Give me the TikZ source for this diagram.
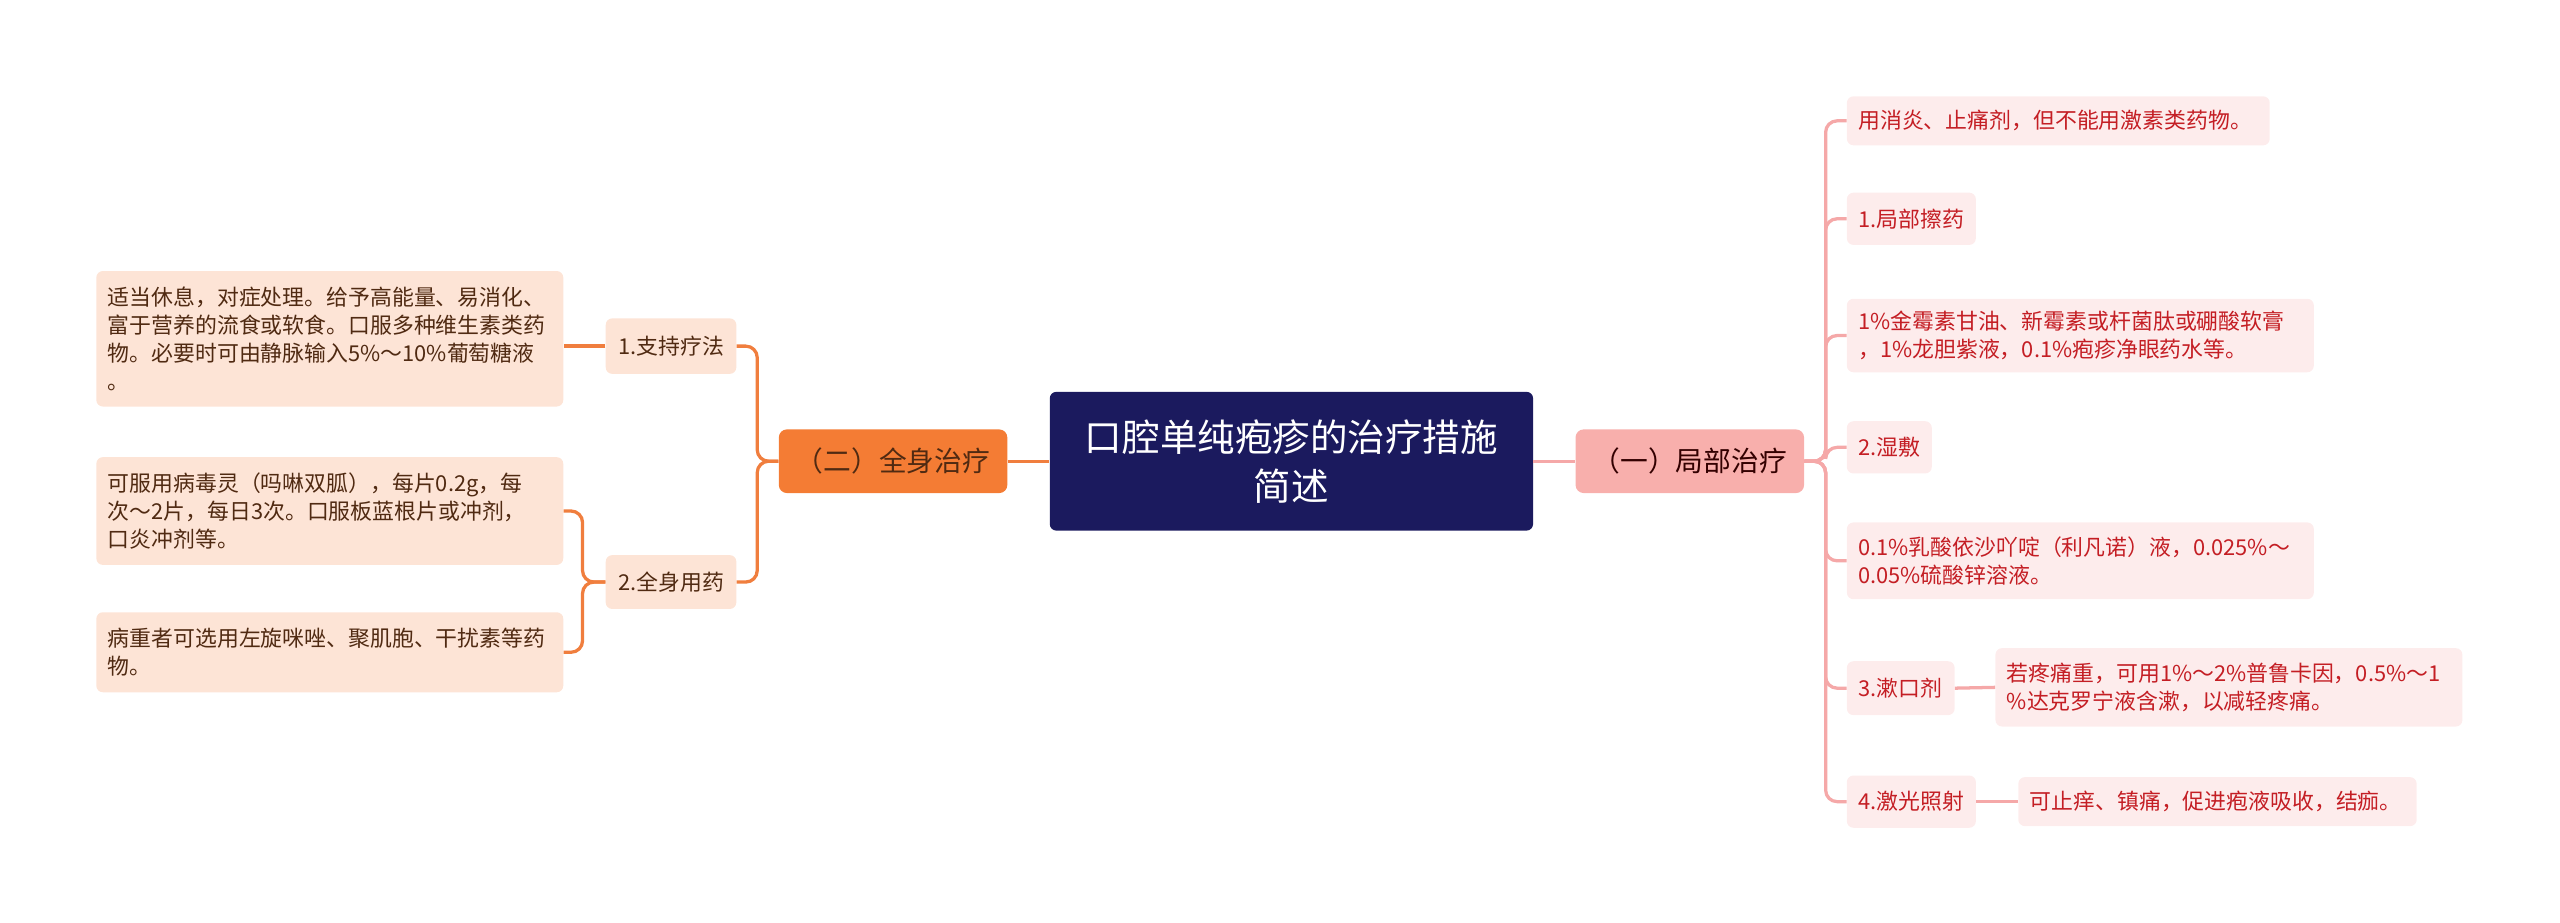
\documentclass[tikz,border=0pt]{standalone}
\usepackage{fontspec}
\newfontfamily\cjk{Noto Sans CJK SC}
\definecolor{navy}{RGB}{27,26,94}
\definecolor{orangemain}{RGB}{244,124,52}
\definecolor{pinkmain}{RGB}{248,175,172}
\definecolor{peach}{RGB}{253,228,214}
\definecolor{palepink}{RGB}{253,236,236}
\definecolor{brownink}{RGB}{80,42,18}
\definecolor{redink}{RGB}{196,30,36}
\definecolor{orangeline}{RGB}{240,126,62}
\definecolor{pinkline}{RGB}{245,168,168}

\begin{document}
\begin{tikzpicture}[x=1pt,y=-1pt,
  rootbox/.style={fill=navy,text=white,rounded corners=4pt,inner xsep=7pt,inner ysep=0pt,
    minimum height=85pt,text width=282pt,align=center,font=\cjk\fontsize{23}{30}\selectfont},
  lmainbox/.style={fill=orangemain,text=brownink,rounded corners=5pt,inner xsep=7pt,inner ysep=0pt,
    minimum height=39pt,text width=126pt,align=center,font=\cjk\fontsize{17}{20}\selectfont},
  rmainbox/.style={lmainbox,fill=pinkmain,text=black!80!red},
  lbox/.style={fill=peach,text=brownink,rounded corners=4pt,inner xsep=7pt,inner ysep=0pt,
    align=left,font=\cjk\fontsize{13.4}{17}\selectfont},
  rbox/.style={lbox,fill=palepink,text=redink,anchor=west},
  lline/.style={draw=orangeline,line width=2pt,rounded corners=7pt},
  rline/.style={draw=pinkline,line width=2pt,rounded corners=7pt}]
\useasboundingbox (0,0) rectangle (1568,565);

\node[rootbox] (root) at (791,282.5) {口腔单纯疱疹的治疗措施\\简述};

\node[lmainbox] (lmain) at (547,282.5) {（二）全身治疗};
\node[rmainbox] (rmain) at (1035,282.5) {（一）局部治疗};

\node[lbox,text width=66pt,minimum height=34pt,align=center] (lsub1) at (411,212) {1.支持疗法};
\node[lbox,text width=66pt,minimum height=33pt,align=center] (lsub2) at (411,356.5) {2.全身用药};
\node[lbox,text width=272pt,minimum height=83pt] (lleaf1) at (202,207.5)
  {适当休息，对症处理。给予高能量、易消化、\\富于营养的流食或软食。口服多种维生素类药\\物。必要时可由静脉输入5\%～10\%葡萄糖液\\。};
\node[lbox,text width=272pt,minimum height=66pt] (lleafA) at (202,313)
  {可服用病毒灵（吗啉双胍），每片0.2g，每\\次～2片，每日3次。口服板蓝根片或冲剂，\\口炎冲剂等。};
\node[lbox,text width=272pt,minimum height=49pt] (lleafB) at (202,399.5)
  {病重者可选用左旋咪唑、聚肌胞、干扰素等药\\物。};

\node[rbox,text width=245pt,minimum height=30pt] (r1) at (1131,74) {用消炎、止痛剂，但不能用激素类药物。};
\node[rbox,text width=65pt,minimum height=32pt] (r2) at (1131,134) {1.局部擦药};
\node[rbox,text width=272pt,minimum height=45pt] (r3) at (1131,205.5)
  {1\%金霉素甘油、新霉素或杆菌肽或硼酸软膏\\，1\%龙胆紫液，0.1\%疱疹净眼药水等。};
\node[rbox,text width=38pt,minimum height=32pt] (r4) at (1131,274) {2.湿敷};
\node[rbox,text width=272pt,minimum height=47pt] (r5) at (1131,343.5)
  {0.1\%乳酸依沙吖啶（利凡诺）液，0.025\%～\\0.05\%硫酸锌溶液。};
\node[rbox,text width=52pt,minimum height=33pt] (r6) at (1131,421.5) {3.漱口剂};
\node[rbox,text width=272pt,minimum height=48pt] (r6a) at (1222,421)
  {若疼痛重，可用1\%～2\%普鲁卡因，0.5\%～1\\\%达克罗宁液含漱，以减轻疼痛。};
\node[rbox,text width=65pt,minimum height=32pt] (r7) at (1131,491) {4.激光照射};
\node[rbox,text width=230pt,minimum height=30pt] (r7a) at (1236,491) {可止痒、镇痛，促进疱液吸收，结痂。};

\draw[lline] (lmain.east) -- (root.west);
\draw[rline] (root.east) -- (rmain.west);
\foreach \n in {lsub1,lsub2}
  \draw[lline] (lmain.west) -- ++(-13,0) |- (\n.east);
\draw[lline] (lsub1.west) -- (lsub1.west -| lleaf1.east);
\foreach \n in {lleafA,lleafB}
  \draw[lline] (lsub2.west) -- ++(-14,0) |- (\n.east);
\foreach \n in {r1,r2,r3,r4,r5,r6,r7}
  \draw[rline] (rmain.east) -- ++(13,0) |- (\n.west);
\draw[rline] (r6.east) -- (r6a.west);
\draw[rline] (r7.east) -- (r7a.west);
\end{tikzpicture}
\end{document}
